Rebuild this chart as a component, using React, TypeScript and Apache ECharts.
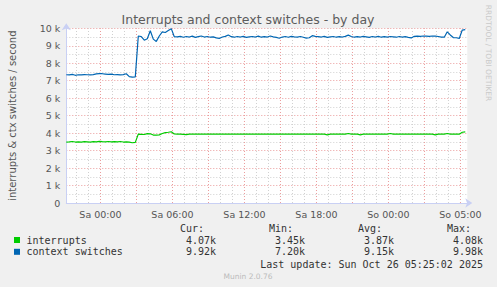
import React, { useEffect, useRef } from 'react';
import * as echarts from 'echarts';

// Time axis: hours relative to "Sa 00:00" (real elapsed hours, DST change at night)
const START_HOUR = -2.85;
const STEP_HOUR = 0.25;
const X_MIN = -2.85;
const X_MAX = 30.57;

const interrupts = [
  3490, 3500, 3520, 3490, 3500, 3490, 3510, 3500, 3490, 3510,
  3500, 3530, 3510, 3500, 3520, 3500, 3510, 3500, 3520, 3490,
  3500, 3480, 3450, 3470, 3940, 3930, 3920, 3970, 3960, 3890,
  3890, 3900, 3980, 4030, 4050, 4080, 3950, 3940, 3940, 3930,
  3910, 3940, 3940, 3940, 3940, 3940, 3940, 3940, 3940, 3940,
  3940, 3940, 3940, 3940, 3940, 3940, 3940, 3940, 3940, 3940,
  3940, 3940, 3940, 3940, 3940, 3940, 3940, 3940, 3940, 3940,
  3940, 3940, 3940, 3940, 3940, 3940, 3940, 3940, 3940, 3940,
  3940, 3940, 3940, 3940, 3940, 3940, 3940, 3900, 3940, 3940,
  3940, 3940, 3940, 3940, 3980, 3940, 3940, 3940, 3900, 3940,
  3940, 3940, 3940, 3940, 3940, 3940, 3940, 3940, 3980, 3940,
  3940, 3940, 3940, 3940, 3940, 3940, 3940, 3940, 3940, 3940,
  3940, 3940, 3940, 3900, 3940, 3940, 3940, 3980, 3940, 3940,
  3940, 3940, 4050, 4070,
];

const contextSwitches = [
  7340, 7330, 7360, 7310, 7340, 7330, 7350, 7340, 7330, 7350,
  7390, 7410, 7400, 7380, 7360, 7380, 7340, 7350, 7330, 7350,
  7400, 7230, 7200, 7220, 9560, 9520, 9320, 9400, 9860, 9380,
  9250, 9560, 9800, 9760, 9870, 9980, 9520, 9510, 9540, 9490,
  9530, 9500, 9550, 9480, 9520, 9560, 9500, 9530, 9490, 9510,
  9450, 9420, 9500, 9540, 9620, 9520, 9490, 9530, 9500, 9540,
  9480, 9510, 9530, 9500, 9550, 9490, 9520, 9500, 9560, 9510,
  9480, 9430, 9500, 9530, 9490, 9540, 9510, 9500, 9530, 9490,
  9440, 9460, 9580, 9540, 9520, 9500, 9540, 9480, 9510, 9530,
  9490, 9520, 9500, 9540, 9610, 9530, 9490, 9520, 9500, 9540,
  9510, 9480, 9530, 9500, 9540, 9490, 9520, 9500, 9530, 9510,
  9490, 9530, 9500, 9520, 9480, 9450, 9540, 9550, 9540, 9560,
  9550, 9540, 9560, 9550, 9530, 9500, 9490, 9800, 9620, 9470,
  9460, 9420, 9900, 9920,
];

const xLabelHours = [0, 6, 12, 18, 24, 30];
const xLabels = ['Sa 00:00', 'Sa 06:00', 'Sa 12:00', 'Sa 18:00', 'So 00:00', 'So 05:00'];
const gridHoursFrom = -2;
const gridHoursTo = 30;
const majorEveryHours = 3;
const Y_MAX = 10000;

const seriesNames = ['interrupts', 'context switches'];
const seriesColors = ['#00cc00', '#0066b3'];
const statHeaders = ['Cur:', 'Min:', 'Avg:', 'Max:'];
const interruptStats = ['4.07k', '3.45k', '3.87k', '4.08k'];
const contextStats = ['9.92k', '7.20k', '9.15k', '9.98k'];
const lastUpdate = 'Last update: Sun Oct 26 05:25:02 2025';
const title = 'Interrupts and context switches - by day';
const yName = 'interrupts & ctx switches / second';

const MAJOR = '#eb9c9c';
const MINOR = '#d0d0d0';
const AXIS = '#c9d0f4';
const TEXT = '#555555';
const MONO = "'DejaVu Sans Mono', monospace";
const SANS = "'DejaVu Sans', sans-serif";

export default function App() {
  const ref = useRef<HTMLDivElement>(null);
  useEffect(() => {
    if (!ref.current) return;
    const chart = echarts.init(ref.current, undefined, { renderer: 'svg' });
    const toPairs = (arr: number[]) => arr.map((v, i) => [START_HOUR + i * STEP_HOUR, v]);
    const majorHours: number[] = [];
    const minorHours: number[] = [];
    for (let h = gridHoursFrom; h <= gridHoursTo; h++) {
      if (h % majorEveryHours === 0) majorHours.push(h);
      else minorHours.push(h);
    }
    const gridLineSeries = (hs: number[], color: string) =>
      hs.map((h) => ({
        type: 'line',
        data: [[h, 0], [h, Y_MAX]],
        showSymbol: false,
        symbol: 'none',
        silent: true,
        z: 2,
        lineStyle: { color, type: [1, 2], width: 1 },
        itemStyle: { color },
      }));

    const statCols = [216, 305, 394, 483];
    const graphics: any[] = [
      {
        type: 'text', x: 248, y: 19,
        style: { text: title, textAlign: 'center', textVerticalAlign: 'middle', fontSize: 12.5, fontFamily: SANS, fill: '#5c5c5c' },
      },
      {
        type: 'text', x: 488.5, y: 53, rotation: -Math.PI / 2,
        style: { text: 'RRDTOOL / TOBI OETIKER', textAlign: 'center', textVerticalAlign: 'middle', fontSize: 7.5, fontFamily: SANS, fill: '#cacaca' },
      },
      {
        type: 'text', x: 248, y: 276,
        style: { text: 'Munin 2.0.76', textAlign: 'center', textVerticalAlign: 'middle', fontSize: 7.5, fontFamily: SANS, fill: '#bbbbbb' },
      },
      {
        type: 'text', x: 483, y: 264,
        style: { text: lastUpdate, textAlign: 'right', textVerticalAlign: 'middle', fontSize: 10, fontFamily: MONO, fill: '#333333' },
      },
    ];
    statHeaders.forEach((h, k) => {
      graphics.push({
        type: 'text', x: statCols[k] - 12, y: 228,
        style: { text: h, textAlign: 'right', textVerticalAlign: 'middle', fontSize: 10, fontFamily: MONO, fill: '#333333' },
      });
    });
    [interruptStats, contextStats].forEach((stats, r) => {
      const y = 240 + r * 11.8;
      graphics.push({
        type: 'rect', shape: { x: 14, y: y - 3, width: 6, height: 6 },
        style: { fill: seriesColors[r] },
      });
      graphics.push({
        type: 'text', x: 26.5, y,
        style: { text: seriesNames[r], textAlign: 'left', textVerticalAlign: 'middle', fontSize: 10, fontFamily: MONO, fill: '#333333' },
      });
      stats.forEach((s, k) => {
        graphics.push({
          type: 'text', x: statCols[k], y,
          style: { text: s, textAlign: 'right', textVerticalAlign: 'middle', fontSize: 10, fontFamily: MONO, fill: '#333333' },
        });
      });
    });

    chart.setOption({
      animation: false,
      backgroundColor: '#f0f0f0',
      grid: {
        left: 66.3, top: 28.3, width: 401, height: 174.7,
        show: true, backgroundColor: '#ffffff', borderWidth: 0,
        containLabel: false, outerBoundsMode: 'none',
      },
      xAxis: {
        type: 'value',
        min: X_MIN,
        max: X_MAX,
        axisLine: { show: true, onZero: false, lineStyle: { color: AXIS, width: 1 }, symbol: ['none', 'arrow'], symbolSize: [7, 7], symbolOffset: [0, 5] },
        axisTick: { show: false },
        splitLine: { show: false },
        axisLabel: {
          customValues: xLabelHours,
          formatter: (v: number) => {
            const k = xLabelHours.indexOf(Math.round(v));
            return k >= 0 ? xLabels[k] : '';
          },
          color: TEXT, fontSize: 9.5, fontFamily: SANS, margin: 6,
        },
      },
      yAxis: {
        type: 'value',
        min: 0,
        max: Y_MAX,
        interval: 1000,
        name: yName,
        nameLocation: 'middle',
        nameGap: 49,
        nameTextStyle: { color: TEXT, fontSize: 10, fontFamily: SANS },
        axisLine: { show: true, onZero: false, lineStyle: { color: AXIS, width: 1 }, symbol: ['none', 'arrow'], symbolSize: [7, 7], symbolOffset: [0, 5] },
        axisTick: { show: false },
        axisLabel: {
          formatter: (v: number) => (v === 0 ? '0' : `${v / 1000} k`),
          color: TEXT, fontSize: 9.5, fontFamily: SANS, margin: 6,
        },
        splitLine: { show: true, lineStyle: { color: MAJOR, type: [1, 2], width: 1 } },
        minorTick: { show: false, splitNumber: 2 },
        minorSplitLine: { show: true, lineStyle: { color: MINOR, type: [1, 2], width: 1 } },
      },
      series: [
        ...gridLineSeries(minorHours, MINOR),
        ...gridLineSeries(majorHours, MAJOR),
        {
          type: 'line',
          name: seriesNames[0],
          data: toPairs(interrupts),
          showSymbol: false,
          symbol: 'none',
          z: 3,
          lineStyle: { color: seriesColors[0], width: 1.2 },
          itemStyle: { color: seriesColors[0] },
        },
        {
          type: 'line',
          name: seriesNames[1],
          data: toPairs(contextSwitches),
          showSymbol: false,
          symbol: 'none',
          z: 3,
          lineStyle: { color: seriesColors[1], width: 1.2 },
          itemStyle: { color: seriesColors[1] },
        },
      ],
      graphic: graphics,
    });
    return () => chart.dispose();
  }, []);

  return (
    <div
      ref={ref}
      style={{ position: 'fixed', left: 0, top: 0, width: 497, height: 287, background: '#f0f0f0' }}
    />
  );
}
